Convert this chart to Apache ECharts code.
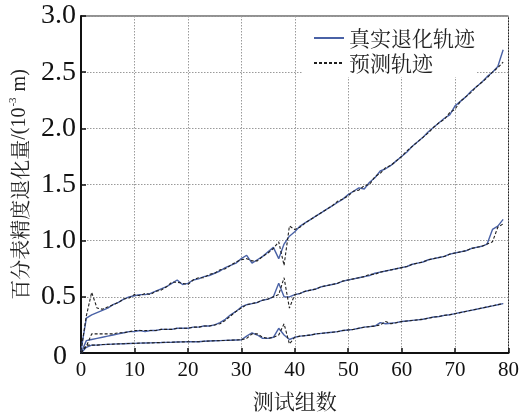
<!DOCTYPE html>
<html>
<head>
<meta charset="utf-8">
<script src="https://cdn.jsdelivr.net/npm/echarts@6/dist/echarts.min.js"></script>
<style>html,body{margin:0;padding:0;background:#fff;}#c{width:522px;height:419px;}</style>
</head>
<body>
<div id="c"></div>
<script>
const xs = [0,1,2,3,4,5,6,7,8,9,10,11,12,13,14,15,16,17,18,19,20,21,22,23,24,25,26,27,28,29,30,31,32,33,34,35,36,37,38,39,40,41,42,43,44,45,46,47,48,49,50,51,52,53,54,55,56,57,58,59,60,61,62,63,64,65,66,67,68,69,70,71,72,73,74,75,76,77,78,79];

const upperTrue = [0.02,0.31,0.34,0.36,0.38,0.40,0.43,0.45,0.48,0.50,0.51,0.52,0.52,0.53,0.55,0.57,0.59,0.62,0.65,0.61,0.62,0.65,0.66,0.68,0.69,0.71,0.73,0.76,0.78,0.80,0.84,0.87,0.80,0.83,0.86,0.90,0.94,0.84,0.97,1.04,1.08,1.13,1.16,1.19,1.22,1.25,1.28,1.31,1.34,1.37,1.41,1.44,1.47,1.46,1.52,1.56,1.62,1.64,1.67,1.71,1.75,1.79,1.84,1.88,1.92,1.97,2.01,2.05,2.09,2.12,2.20,2.24,2.28,2.33,2.37,2.41,2.46,2.50,2.55,2.70];
const upperPred = [0.02,0.33,0.54,0.40,0.39,0.41,0.43,0.45,0.48,0.49,0.52,0.51,0.53,0.52,0.55,0.56,0.59,0.63,0.63,0.62,0.61,0.65,0.67,0.67,0.70,0.71,0.74,0.75,0.78,0.81,0.83,0.84,0.82,0.82,0.86,0.89,0.93,0.99,0.78,1.13,1.10,1.12,1.16,1.19,1.22,1.25,1.28,1.31,1.35,1.37,1.40,1.44,1.45,1.49,1.50,1.57,1.60,1.65,1.67,1.71,1.75,1.80,1.84,1.88,1.92,1.96,2.01,2.05,2.08,2.14,2.17,2.24,2.28,2.32,2.37,2.41,2.45,2.50,2.54,2.59];

const midTrue = [0.00,0.11,0.12,0.13,0.14,0.15,0.16,0.17,0.18,0.19,0.19,0.20,0.19,0.20,0.20,0.21,0.21,0.21,0.22,0.22,0.22,0.23,0.23,0.24,0.24,0.25,0.27,0.30,0.34,0.37,0.41,0.43,0.44,0.45,0.47,0.48,0.50,0.62,0.50,0.50,0.52,0.53,0.55,0.56,0.57,0.59,0.60,0.61,0.62,0.64,0.65,0.66,0.67,0.68,0.69,0.71,0.72,0.73,0.74,0.75,0.76,0.77,0.79,0.80,0.81,0.83,0.84,0.85,0.86,0.88,0.89,0.90,0.91,0.93,0.94,0.95,0.97,1.10,1.13,1.19];
const midPred = [0.00,0.06,0.17,0.17,0.17,0.17,0.17,0.18,0.18,0.19,0.20,0.20,0.20,0.20,0.20,0.21,0.21,0.21,0.22,0.22,0.22,0.23,0.23,0.24,0.24,0.25,0.26,0.29,0.33,0.37,0.40,0.43,0.44,0.45,0.47,0.48,0.50,0.52,0.67,0.40,0.52,0.53,0.55,0.56,0.57,0.59,0.60,0.61,0.62,0.64,0.65,0.66,0.67,0.68,0.70,0.70,0.72,0.73,0.74,0.75,0.76,0.77,0.79,0.80,0.81,0.83,0.84,0.85,0.86,0.88,0.89,0.90,0.91,0.93,0.94,0.95,0.97,0.99,1.12,1.15];

const lowTrue = [0.00,0.05,0.07,0.07,0.075,0.077,0.079,0.081,0.083,0.085,0.086,0.088,0.089,0.090,0.092,0.093,0.095,0.096,0.098,0.099,0.100,0.100,0.100,0.105,0.107,0.109,0.110,0.112,0.114,0.116,0.118,0.15,0.18,0.16,0.13,0.13,0.14,0.22,0.16,0.12,0.14,0.15,0.155,0.16,0.17,0.175,0.18,0.185,0.19,0.20,0.205,0.21,0.22,0.23,0.235,0.24,0.27,0.26,0.265,0.27,0.28,0.285,0.29,0.295,0.30,0.31,0.32,0.325,0.335,0.34,0.35,0.36,0.37,0.38,0.39,0.40,0.41,0.42,0.43,0.44];
const lowPred = [0.00,0.07,0.07,0.07,0.075,0.077,0.079,0.081,0.083,0.085,0.086,0.088,0.089,0.090,0.092,0.093,0.095,0.096,0.098,0.099,0.100,0.100,0.100,0.105,0.107,0.109,0.110,0.112,0.114,0.116,0.118,0.13,0.17,0.17,0.14,0.13,0.14,0.16,0.26,0.08,0.14,0.15,0.155,0.16,0.17,0.175,0.18,0.185,0.19,0.20,0.205,0.21,0.22,0.23,0.235,0.24,0.25,0.28,0.26,0.27,0.28,0.285,0.29,0.295,0.30,0.31,0.32,0.325,0.335,0.34,0.35,0.36,0.37,0.38,0.39,0.40,0.41,0.42,0.43,0.44];

const nameTrue = '真实退化轨迹';
const namePred = '预测轨迹';
const xTitle = '测试组数';
const yTitleMain = '百分表精度退化量/(10';
const yTitleSup = '-3';
const yTitleEnd = ' m)';

const serif = 'Liberation Serif';
const cjk = 'Noto Serif CJK SC';
const trueColor = '#4a62a6';
const predColor = '#1e1e1e';

function pairs(ys){ return xs.map((x,i)=>[x, ys[i]]); }
function trueSeries(ys){
  return {name:nameTrue, type:'line', data:pairs(ys), symbol:'none', z:2,
    lineStyle:{color:trueColor, width:1.4}, itemStyle:{color:trueColor}};
}
function predSeries(ys){
  return {name:namePred, type:'line', data:pairs(ys), symbol:'none', z:3,
    lineStyle:{color:predColor, width:1.1, type:[3,2]}, itemStyle:{color:predColor}};
}

const chart = echarts.init(document.getElementById('c'), null, {renderer:'canvas'});
chart.setOption({
  animation:false,
  backgroundColor:'#fff',
  textStyle:{fontFamily:serif},
  grid:{left:81, right:10, top:16, bottom:66, show:true, borderColor:'#222', borderWidth:1, backgroundColor:'transparent'},
  legend:{
    data:[nameTrue, namePred],
    orient:'vertical', left:303, top:17,
    padding:[10,2,3,10],
    backgroundColor:'#fff',
    itemWidth:30, itemHeight:14, itemGap:3,
    itemStyle:{opacity:0, borderWidth:0},
    textStyle:{fontFamily:cjk, fontSize:21, color:'#222', lineHeight:22},
    z:1
  },
  xAxis:{
    type:'value', min:0, max:80, interval:10,
    name:xTitle, nameLocation:'middle', nameGap:38,
    nameTextStyle:{fontFamily:cjk, fontSize:21, color:'#222'},
    axisLine:{show:true, lineStyle:{color:'#111', width:2}},
    axisTick:{show:true, inside:true, length:5, lineStyle:{color:'#111', width:1.5}},
    axisLabel:{fontFamily:serif, fontSize:21, color:'#111', margin:7},
    splitLine:{show:true, lineStyle:{color:'#9a9a9a', type:[1.5,1.5], width:1}}
  },
  yAxis:{
    type:'value', min:0, max:3, interval:0.5,
    name:'{c|百分表精度退化量}{a|/(10}{s|' + yTitleSup + '}{a|' + yTitleEnd + '}',
    nameLocation:'middle', nameGap:51, nameRotate:90,
    nameTextStyle:{
      fontFamily:serif,
      rich:{
        c:{fontFamily:cjk, fontSize:20, color:'#222', lineHeight:22, verticalAlign:'bottom'},
        a:{fontFamily:serif, fontSize:20, color:'#222', lineHeight:22, verticalAlign:'bottom'},
        s:{fontFamily:serif, fontSize:11, color:'#222', lineHeight:22, verticalAlign:'top', padding:[0,1,0,1]}
      }
    },
    axisLine:{show:true, lineStyle:{color:'#111', width:2}},
    axisTick:{show:true, inside:true, length:5, lineStyle:{color:'#111', width:1.5}},
    axisLabel:{
      fontFamily:serif, fontSize:28, color:'#111', margin:5,
      formatter:function(v){ return v===0 ? '{z|0}' : v.toFixed(1); },
      rich:{z:{fontFamily:serif, fontSize:28, color:'#111', padding:[8,9,0,0]}}
    },
    splitLine:{show:true, lineStyle:{color:'#9a9a9a', type:[1.5,1.5], width:1}}
  },
  series:[
    trueSeries(upperTrue), predSeries(upperPred),
    trueSeries(midTrue), predSeries(midPred),
    trueSeries(lowTrue), predSeries(lowPred)
  ]
});
</script>
</body>
</html>
